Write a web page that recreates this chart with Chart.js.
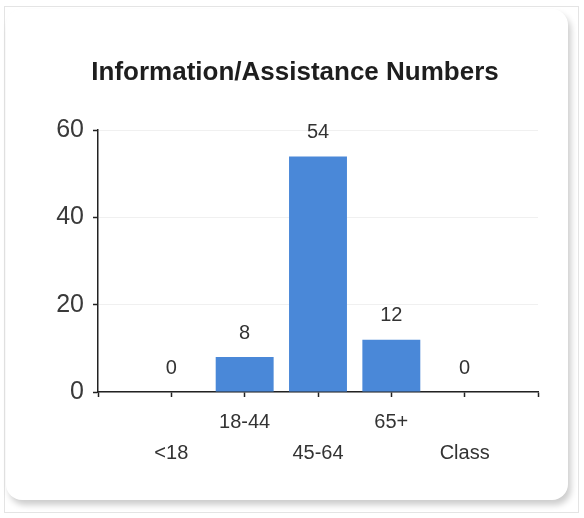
<!DOCTYPE html>
<html>
<head>
<meta charset="utf-8">
<script src="https://cdn.jsdelivr.net/npm/chart.js@4"></script>
<style>
  html, body { margin: 0; padding: 0; background: #ffffff; }
  body { width: 584px; height: 518px; position: relative; overflow: hidden; }
  .outer { position: absolute; left: 4px; top: 6px; width: 575px; height: 507px; border: 1px solid #e4e4e4; box-sizing: border-box; }
  .card { position: absolute; left: 6px; top: 9px; width: 562px; height: 491px; border-radius: 16px; background: #fff; box-shadow: 3px 5px 6px rgba(0,0,0,0.20); }
  .wrap { position: absolute; left: 0; top: 0; width: 584px; height: 518px; }
</style>
</head>
<body>
<div class="outer"></div>
<div class="card"></div>
<div class="wrap"><canvas id="c" width="584" height="518"></canvas></div>
<script>
const titleText = 'Information/Assistance Numbers';
const categories = ['<18', '18-44', '45-64', '65+', 'Class'];
const values = [0, 8, 54, 12, 0];
const yTicks = [0, 20, 40, 60];

const FONT = "'Liberation Sans', Arial, sans-serif";

const valueLabels = {
  id: 'valueLabels',
  afterDatasetsDraw(chart) {
    const ctx = chart.ctx;
    const meta = chart.getDatasetMeta(0);
    ctx.save();
    ctx.font = '20px ' + FONT;
    ctx.fillStyle = '#333333';
    ctx.textAlign = 'center';
    ctx.textBaseline = 'middle';
    meta.data.forEach((el, i) => {
      ctx.fillText(String(values[i]), el.x, el.y - 24);
    });
    ctx.restore();
  }
};

new Chart(document.getElementById('c'), {
  type: 'bar',
  data: {
    datasets: [{
      data: values.map((v, i) => ({ x: i + 1, y: v })),
      backgroundColor: '#4a88d8',
      borderWidth: 0,
      barPercentage: 0.79,
      categoryPercentage: 1.0
    }]
  },
  options: {
    responsive: false,
    animation: false,
    devicePixelRatio: 1,
    layout: { padding: { left: 52, right: 46, top: 0, bottom: 0 } },
    plugins: {
      legend: { display: false },
      tooltip: { enabled: false },
      title: {
        display: true,
        text: titleText,
        color: '#1e1e1e',
        font: { family: FONT, size: 26, weight: 'bold', lineHeight: 1.2 },
        padding: { top: 57, bottom: 42 }
      }
    },
    scales: {
      x: {
        type: 'linear',
        offset: false,
        min: 0,
        max: categories.length + 1,
        border: { color: '#222', width: 1.5 },
        grid: { offset: false, drawOnChartArea: false, drawTicks: true, tickLength: 5, tickColor: '#222', tickWidth: 1.5 },
        ticks: {
          stepSize: 1,
          autoSkip: false,
          maxRotation: 0,
          padding: 10,
          color: '#333',
          font: { family: FONT, size: 20, lineHeight: 1.55 },
          callback: (v) => {
            const i = v - 1;
            if (i < 0 || i >= categories.length) return '';
            return i % 2 === 1 ? [categories[i]] : ['', categories[i]];
          }
        },
        afterFit: (s) => { s.height = 126; }
      },
      y: {
        min: yTicks[0],
        max: yTicks[yTicks.length - 1],
        border: { color: '#222', width: 1.5 },
        grid: { color: 'rgba(0,0,0,0.06)', drawTicks: true, tickLength: 5, tickColor: '#222', tickWidth: 1.5 },
        afterBuildTicks: (s) => { s.ticks = yTicks.map(v => ({ value: v })); },
        ticks: {
          padding: 9,
          color: '#3a3a3a',
          font: { family: FONT, size: 25 }
        },
        afterFit: (s) => { s.width = 46; }
      }
    }
  },
  plugins: [valueLabels]
});
</script>
</body>
</html>
